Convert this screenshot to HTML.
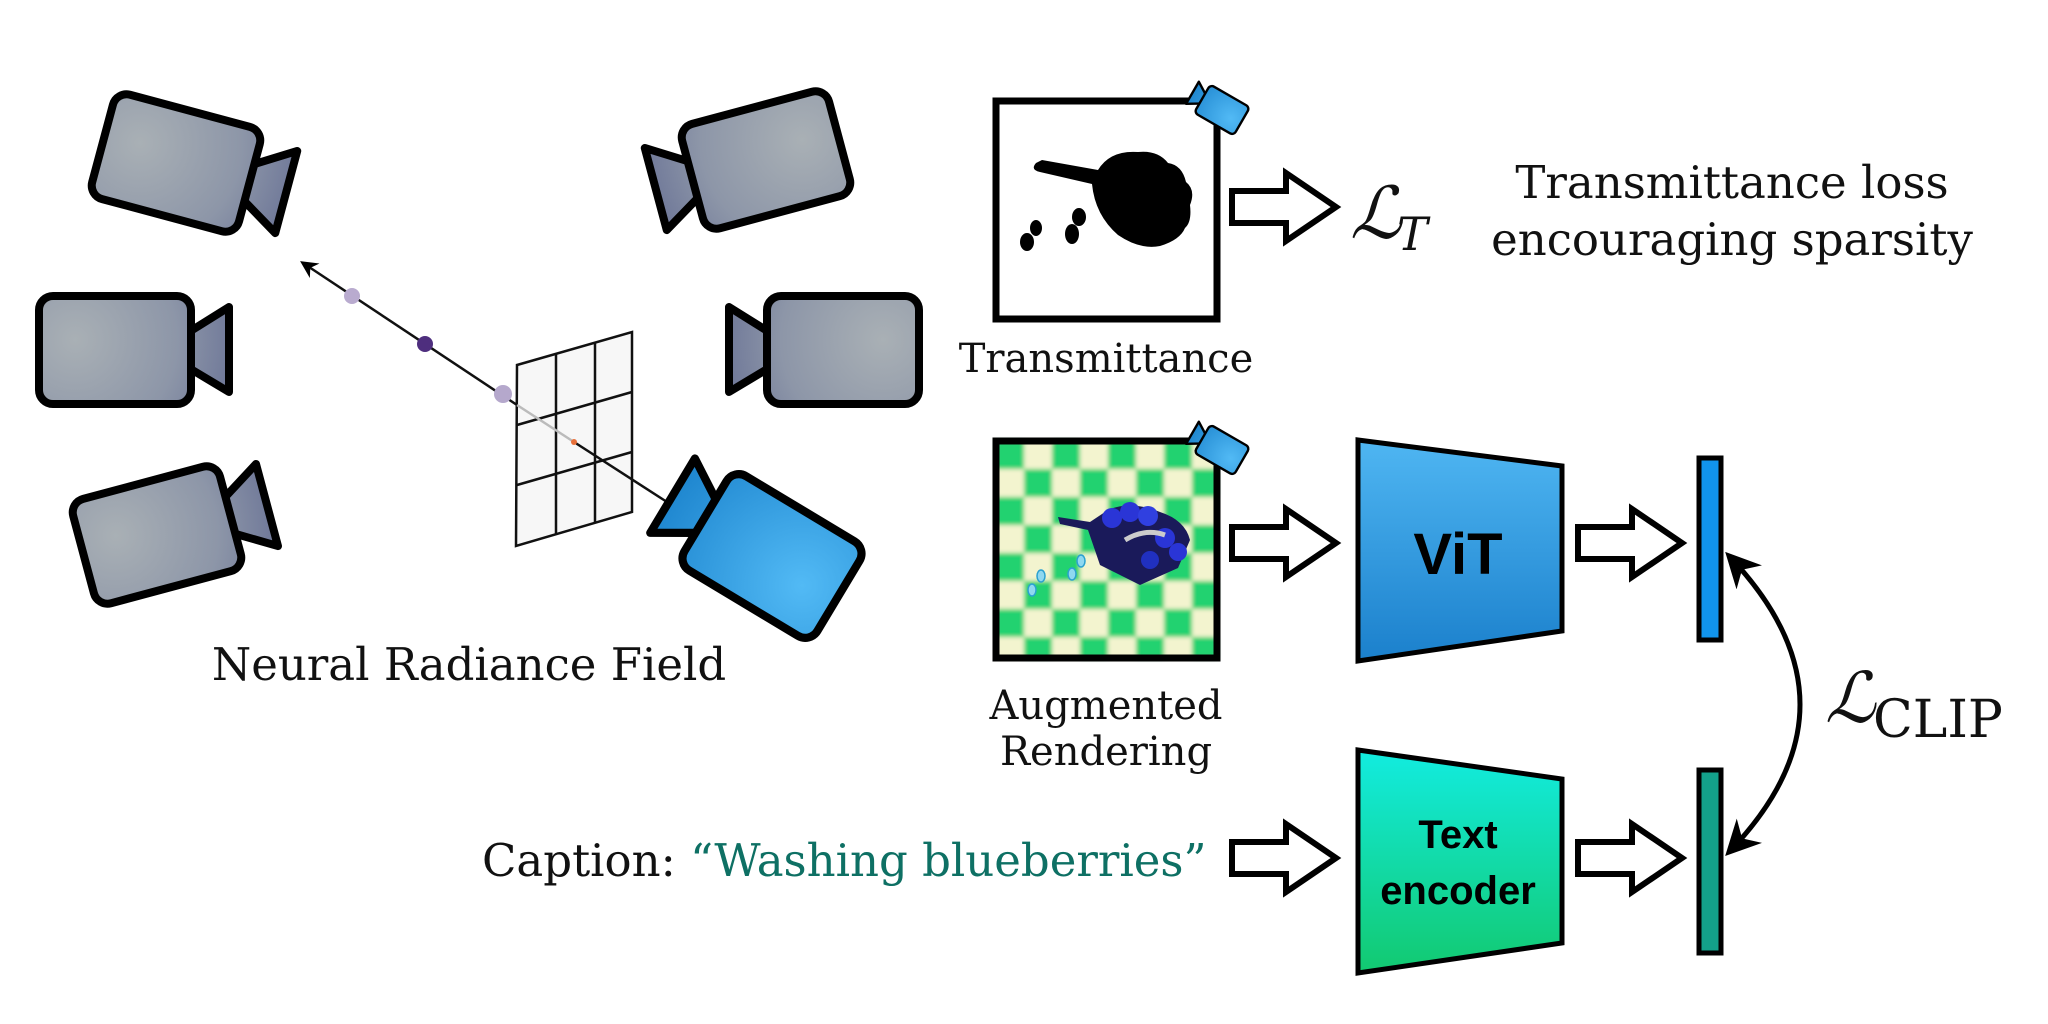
<!DOCTYPE html>
<html><head><meta charset="utf-8"><style>
html,body{margin:0;padding:0;background:#fff;}
svg{display:block;}
.serif{font-family:"DejaVu Serif","Liberation Serif",serif;}
.sans{font-family:"Liberation Sans","DejaVu Sans",sans-serif;font-weight:bold;}
</style></head><body>
<svg width="2048" height="1024" viewBox="0 0 2048 1024" xmlns="http://www.w3.org/2000/svg">
<defs>
<radialGradient id="gray" gradientUnits="userSpaceOnUse" cx="-40" cy="-10" r="170">
<stop offset="0" stop-color="#a9b0b5"/><stop offset="0.6" stop-color="#8d96a8"/><stop offset="1" stop-color="#6a7396"/>
</radialGradient>
<radialGradient id="blue" gradientUnits="userSpaceOnUse" cx="-40" cy="10" r="170">
<stop offset="0" stop-color="#52baf5"/><stop offset="1" stop-color="#1a82cc"/>
</radialGradient>
<linearGradient id="vit" x1="0" y1="0" x2="0" y2="1">
<stop offset="0" stop-color="#4fb6f2"/><stop offset="1" stop-color="#1b80cc"/>
</linearGradient>
<linearGradient id="txt" x1="0" y1="0" x2="0" y2="1">
<stop offset="0" stop-color="#12ece0"/><stop offset="1" stop-color="#12c970"/>
</linearGradient>
<g id="cam">
<path d="M74,-18 L114,-43 L114,42 L74,18" stroke="#000" stroke-width="8" stroke-linejoin="round"/>
<rect x="-76" y="-54" width="152" height="108" rx="14" stroke="#000" stroke-width="8" stroke-linejoin="round"/>
</g>
<pattern id="chk" x="996" y="441" width="56" height="56" patternUnits="userSpaceOnUse">
<rect width="56" height="56" fill="#f3f4cf"/>
<rect width="28" height="28" fill="#22d26f"/><rect x="28" y="28" width="28" height="28" fill="#22d26f"/>
</pattern>
<filter id="bl"><feGaussianBlur stdDeviation="2"/></filter>
<marker id="ah" viewBox="0 0 10 10" refX="8" refY="5" markerWidth="7" markerHeight="7" orient="auto-start-reverse">
<path d="M0,0 L10,5 L0,10 L3,5 z" fill="#000"/></marker>
</defs>

<!-- cameras -->
<use href="#cam" fill="url(#gray)" transform="translate(176,163) rotate(15)"/>
<use href="#cam" fill="url(#gray)" transform="translate(115,350)"/>
<use href="#cam" fill="url(#gray)" transform="translate(157,535) rotate(-15)"/>
<use href="#cam" fill="url(#gray)" transform="translate(766,160) scale(-1,1) rotate(15)"/>
<use href="#cam" fill="url(#gray)" transform="translate(843,350) scale(-1,1)"/>

<!-- grid -->
<path d="M517,365 L632,332 L632,512 L516,546 Z" fill="#f7f7f7" stroke="#111" stroke-width="2.5"/>
<path d="M556,354 L556,535 M595,343 L595,523 M517,425 L632,392 M517,485 L632,452" stroke="#111" stroke-width="2.5" fill="none"/>
<!-- ray -->
<line x1="667" y1="502" x2="574" y2="442" stroke="#111" stroke-width="2.5"/>
<line x1="574" y1="442" x2="517" y2="405" stroke="#bbb" stroke-width="2.5"/>
<line x1="517" y1="405" x2="303" y2="263" stroke="#111" stroke-width="2.5" marker-end="url(#ah)"/>
<circle cx="352" cy="296" r="8" fill="#b9abcf"/>
<circle cx="425" cy="344" r="8" fill="#4e2e7e"/>
<circle cx="503" cy="394" r="9" fill="#b5a8cc"/>
<circle cx="574" cy="442" r="3" fill="#e8703a"/>
<use href="#cam" fill="url(#blue)" transform="translate(772,556) rotate(31) scale(-1.02,1.02)"/>

<text x="469" y="680" class="serif" font-size="45" text-anchor="middle" fill="#111">Neural Radiance Field</text>

<!-- transmittance -->
<rect x="996" y="101" width="221" height="218" fill="#fff" stroke="#000" stroke-width="7"/>
<path d="M1036,163 Q1030,170 1040,172 L1092,184 Q1095,215 1118,235 Q1140,250 1160,246 Q1180,240 1185,228 Q1192,222 1190,205 Q1196,190 1186,182 Q1182,165 1168,163 Q1158,150 1138,152 Q1110,150 1098,170 L1042,160 Z" fill="#000"/>
<ellipse cx="1027" cy="242" rx="7" ry="9"/><ellipse cx="1036" cy="228" rx="6" ry="8"/>
<ellipse cx="1072" cy="234" rx="7" ry="10"/><ellipse cx="1079" cy="217" rx="7" ry="9"/>
<use href="#cam" fill="url(#blue)" transform="translate(1222,110) rotate(30) scale(-0.3,0.3)"/>
<text x="1106" y="372" class="serif" font-size="40" text-anchor="middle" fill="#111">Transmittance</text>

<!-- arrows -->
<g fill="#fff" stroke="#000" stroke-width="6" stroke-linejoin="miter">
<path d="M1232,191 L1286,191 L1286,173 L1336,207 L1286,241 L1286,223 L1232,223 Z"/>
<path d="M1232,527 L1286,527 L1286,509 L1336,543 L1286,577 L1286,559 L1232,559 Z"/>
<path d="M1232,842 L1286,842 L1286,824 L1336,858 L1286,892 L1286,874 L1232,874 Z"/>
<path d="M1578,527 L1632,527 L1632,509 L1682,543 L1632,577 L1632,559 L1578,559 Z"/>
<path d="M1578,842 L1632,842 L1632,824 L1682,858 L1632,892 L1632,874 L1578,874 Z"/>
</g>
<text x="1350" y="238" class="serif" font-size="72" font-style="italic" fill="#111">ℒ</text>
<text x="1397" y="250" class="serif" font-size="46" font-style="italic" fill="#111">T</text>
<text x="1732" y="198" class="serif" font-size="45" text-anchor="middle" fill="#111">Transmittance loss</text>
<text x="1732" y="255" class="serif" font-size="45" text-anchor="middle" fill="#111">encouraging sparsity</text>

<!-- augmented -->
<rect x="996" y="441" width="221" height="217" fill="url(#chk)" filter="url(#bl)"/>
<rect x="996" y="441" width="221" height="217" fill="none" stroke="#000" stroke-width="7"/>
<path d="M1058,517 L1090,522 L1108,510 Q1130,500 1160,512 Q1185,520 1190,540 L1178,568 L1140,585 L1100,565 L1088,530 L1060,524 Z" fill="#1a1a5a"/>
<circle cx="1112" cy="518" r="10" fill="#2a35d6"/><circle cx="1130" cy="512" r="10" fill="#2a35d6"/><circle cx="1148" cy="516" r="10" fill="#3040e0"/>
<circle cx="1165" cy="538" r="10" fill="#2a35d6"/><circle cx="1178" cy="552" r="9" fill="#2a35d6"/><circle cx="1150" cy="560" r="9" fill="#2030c0"/>
<path d="M1125,540 Q1145,528 1165,535" stroke="#ccc" stroke-width="5" fill="none"/>
<ellipse cx="1041" cy="576" rx="4" ry="6" fill="#8fd8f0" stroke="#2aa0d0" stroke-width="1.5"/>
<ellipse cx="1032" cy="590" rx="4" ry="6" fill="#8fd8f0" stroke="#2aa0d0" stroke-width="1.5"/>
<ellipse cx="1072" cy="574" rx="4" ry="6" fill="#8fd8f0" stroke="#2aa0d0" stroke-width="1.5"/>
<ellipse cx="1081" cy="561" rx="4" ry="6" fill="#8fd8f0" stroke="#2aa0d0" stroke-width="1.5"/>
<use href="#cam" fill="url(#blue)" transform="translate(1222,450) rotate(30) scale(-0.3,0.3)"/>
<text x="1106" y="719" class="serif" font-size="40" text-anchor="middle" fill="#111">Augmented</text>
<text x="1106" y="765" class="serif" font-size="40" text-anchor="middle" fill="#111">Rendering</text>

<!-- ViT -->
<path d="M1358,440 L1562,466 L1562,631 L1358,661 Z" fill="url(#vit)" stroke="#000" stroke-width="5"/>
<text x="1458" y="574" class="sans" font-size="58" text-anchor="middle" fill="#000">ViT</text>
<!-- Text encoder -->
<path d="M1358,750 L1562,779 L1562,943 L1358,973 Z" fill="url(#txt)" stroke="#000" stroke-width="5"/>
<text x="1458" y="848" class="sans" font-size="40" text-anchor="middle" fill="#000">Text</text>
<text x="1458" y="904" class="sans" font-size="40" text-anchor="middle" fill="#000">encoder</text>

<!-- bars -->
<rect x="1699" y="458" width="22" height="182" fill="#1194ec" stroke="#000" stroke-width="5"/>
<rect x="1699" y="770" width="22" height="183" fill="#13a08a" stroke="#000" stroke-width="5"/>
<path d="M1730,557 Q1870,705 1730,851" fill="none" stroke="#000" stroke-width="5" marker-start="url(#ah)" marker-end="url(#ah)"/>
<text x="1825" y="722" class="serif" font-size="70" font-style="italic" fill="#111">ℒ</text>
<text x="1873" y="737" class="serif" font-size="52" fill="#111">CLIP</text>

<text x="482" y="876" class="serif" font-size="45" fill="#111">Caption: <tspan fill="#0e7064">“Washing blueberries”</tspan></text>
</svg>
</body></html>
